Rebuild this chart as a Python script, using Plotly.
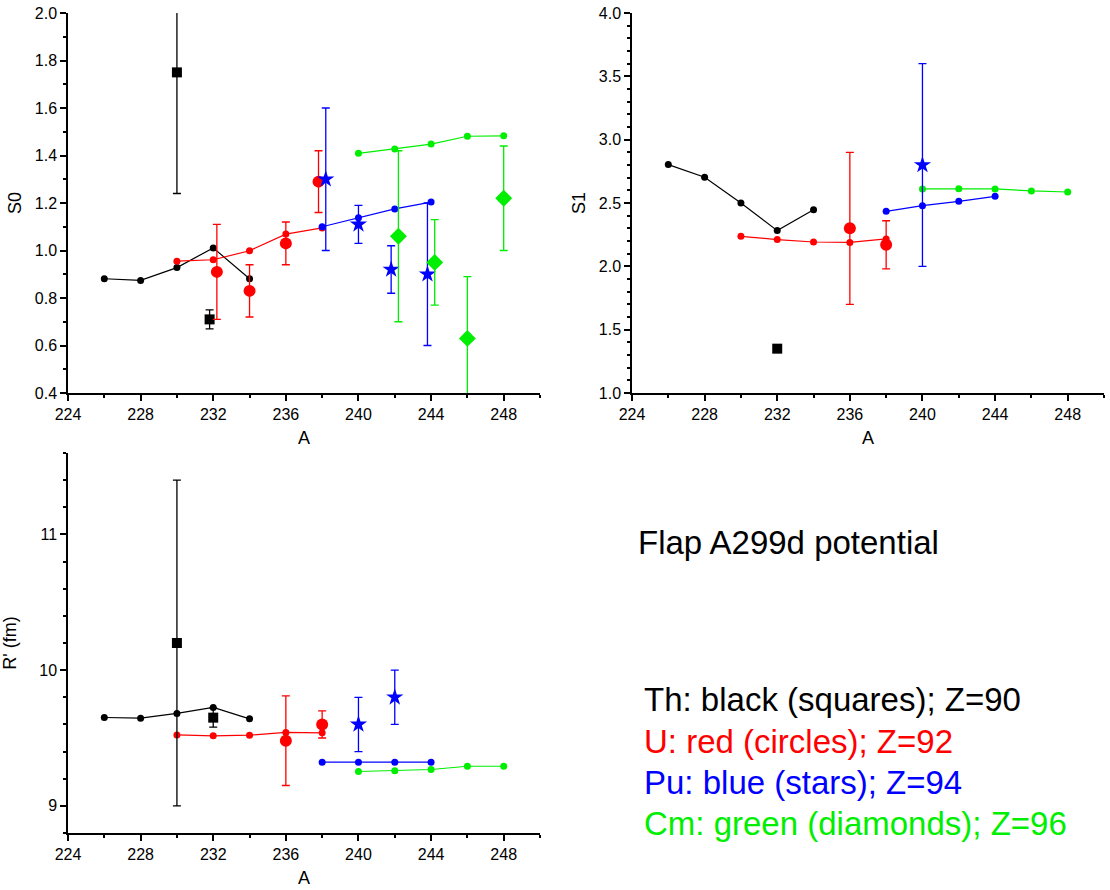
import plotly.graph_objects as go

# ---------------- data ----------------
# S0 panel
th_calc_A = [226, 228, 230, 232, 234]
th_calc_S0 = [0.881, 0.874, 0.928, 1.011, 0.881]
u_calc_A = [230, 232, 234, 236, 238]
u_calc_S0 = [0.955, 0.961, 0.999, 1.069, 1.095]
pu_calc_A = [238, 240, 242, 244]
pu_calc_S0 = [1.100, 1.138, 1.175, 1.204]
cm_calc_A = [240, 242, 244, 246, 248]
cm_calc_S0 = [1.409, 1.427, 1.448, 1.481, 1.483]

th_exp_A_S0 = [230, 231.8]
th_exp_S0 = [1.75, 0.71]
th_exp_S0_err = [0.51, 0.04]
u_exp_A_S0 = [232.2, 234, 236, 237.8]
u_exp_S0 = [0.91, 0.83, 1.03, 1.29]
u_exp_S0_err = [0.20, 0.11, 0.09, 0.13]
pu_exp_A_S0 = [238.2, 240, 241.8, 243.8]
pu_exp_S0 = [1.30, 1.11, 0.92, 0.90]
pu_exp_S0_err = [0.30, 0.08, 0.10, 0.30]
cm_exp_A_S0 = [242.2, 244.2, 246, 248]
cm_exp_S0 = [1.06, 0.95, 0.63, 1.22]
cm_exp_S0_err = [0.36, 0.18, 0.26, 0.22]

# S1 panel
th_calc_S1 = [2.803, 2.703, 2.500, 2.282, 2.447]
u_calc_S1 = [2.237, 2.211, 2.192, 2.189, 2.216]
pu_calc_S1 = [2.434, 2.479, 2.513, 2.553]
cm_calc_S1 = [2.611, 2.613, 2.611, 2.595, 2.587]

th_exp_A_S1 = [232]
th_exp_S1 = [1.35]
th_exp_S1_err = [0.03]
u_exp_A_S1 = [236, 238]
u_exp_S1 = [2.30, 2.17]
u_exp_S1_err = [0.60, 0.19]
pu_exp_A_S1 = [240]
pu_exp_S1 = [2.80]
pu_exp_S1_err = [0.80]

# R' panel
th_calc_R = [9.651, 9.646, 9.681, 9.725, 9.641]
u_calc_R = [9.523, 9.516, 9.521, 9.541, 9.538]
pu_calc_R = [9.322, 9.322, 9.322, 9.322]
cm_calc_R = [9.253, 9.258, 9.268, 9.292, 9.292]

th_exp_A_R = [230, 232]
th_exp_R = [10.2, 9.65]
th_exp_R_err = [1.2, 0.07]
u_exp_A_R = [236, 238]
u_exp_R = [9.48, 9.60]
u_exp_R_err = [0.33, 0.10]
pu_exp_A_R = [240, 242]
pu_exp_R = [9.60, 9.80]
pu_exp_R_err = [0.20, 0.20]

title_text = "Flap A299d potential"
legend_lines = ["Th: black (squares); Z=90", "U: red (circles); Z=92",
                "Pu: blue (stars); Z=94", "Cm: green (diamonds); Z=96"]

BLACK, RED, BLUE, GREEN = "#000000", "#ff0000", "#0000ff", "#00ee00"
colors = [BLACK, RED, BLUE, GREEN]

fig = go.Figure()


def calc(x, y, c, xa, ya):
    fig.add_trace(go.Scatter(x=x, y=y, mode="lines+markers", xaxis=xa, yaxis=ya,
                             line=dict(color=c, width=1.2),
                             marker=dict(color=c, size=7, symbol="circle"),
                             showlegend=False))


def exp(x, y, e, c, sym, size, xa, ya):
    fig.add_trace(go.Scatter(x=x, y=y, mode="markers", xaxis=xa, yaxis=ya,
                             marker=dict(color=c, size=size, symbol=sym, line=dict(width=0)),
                             error_y=dict(type="data", array=e, visible=True, color=c,
                                          thickness=1.3, width=4),
                             showlegend=False))


# panel 1
calc(th_calc_A, th_calc_S0, BLACK, "x", "y")
calc(u_calc_A, u_calc_S0, RED, "x", "y")
calc(pu_calc_A, pu_calc_S0, BLUE, "x", "y")
calc(cm_calc_A, cm_calc_S0, GREEN, "x", "y")
exp(th_exp_A_S0, th_exp_S0, th_exp_S0_err, BLACK, "square", 10, "x", "y")
exp(u_exp_A_S0, u_exp_S0, u_exp_S0_err, RED, "circle", 12, "x", "y")
exp(pu_exp_A_S0, pu_exp_S0, pu_exp_S0_err, BLUE, "star", 13, "x", "y")
exp(cm_exp_A_S0, cm_exp_S0, cm_exp_S0_err, GREEN, "diamond", 13, "x", "y")

# panel 2
calc(th_calc_A, th_calc_S1, BLACK, "x2", "y2")
calc(u_calc_A, u_calc_S1, RED, "x2", "y2")
calc(pu_calc_A, pu_calc_S1, BLUE, "x2", "y2")
calc(cm_calc_A, cm_calc_S1, GREEN, "x2", "y2")
exp(th_exp_A_S1, th_exp_S1, th_exp_S1_err, BLACK, "square", 10, "x2", "y2")
exp(u_exp_A_S1, u_exp_S1, u_exp_S1_err, RED, "circle", 12, "x2", "y2")
exp(pu_exp_A_S1, pu_exp_S1, pu_exp_S1_err, BLUE, "star", 13, "x2", "y2")

# panel 3
calc(th_calc_A, th_calc_R, BLACK, "x3", "y3")
calc(u_calc_A, u_calc_R, RED, "x3", "y3")
calc(pu_calc_A, pu_calc_R, BLUE, "x3", "y3")
calc(cm_calc_A, cm_calc_R, GREEN, "x3", "y3")
exp(th_exp_A_R, th_exp_R, th_exp_R_err, BLACK, "square", 10, "x3", "y3")
exp(u_exp_A_R, u_exp_R, u_exp_R_err, RED, "circle", 12, "x3", "y3")
exp(pu_exp_A_R, pu_exp_R, pu_exp_R_err, BLUE, "star", 13, "x3", "y3")

FONT = "Arial, Liberation Sans, sans-serif"
W, H = 1110, 890


def xaxis(dom, anchor, title):
    return dict(domain=dom, anchor=anchor, range=[224, 250], tickmode="linear", tick0=224, dtick=4,
                ticks="outside", ticklen=6, tickwidth=1.5, tickcolor="black", automargin=False,
                minor=dict(ticks="outside", ticklen=3, dtick=2, tick0=224, tickcolor="black", tickwidth=1.5),
                showline=True, linecolor="black", linewidth=1.5, showgrid=False, zeroline=False,
                tickfont=dict(size=16, color="black", family=FONT),
                title=dict(text=title, font=dict(size=18, color="black", family=FONT), standoff=9))


def yaxis(dom, anchor, rng, dt, mdt, title, fmt, standoff):
    return dict(domain=dom, anchor=anchor, range=rng, tickmode="linear", tick0=rng[0], dtick=dt,
                ticks="outside", ticklen=6, tickwidth=1.5, tickcolor="black", tickformat=fmt,
                automargin=False,
                minor=dict(ticks="outside", ticklen=3, dtick=mdt, tickcolor="black", tickwidth=1.5),
                showline=True, linecolor="black", linewidth=1.5, showgrid=False, zeroline=False,
                tickfont=dict(size=16, color="black", family=FONT),
                title=dict(text=title, font=dict(size=18, color="black", family=FONT), standoff=standoff))


x1 = [68 / W, 540 / W]
x2 = [632 / W, 1104 / W]
ytop = [1 - 393 / H, 1 - 13 / H]
ybot = [1 - 833 / H, 1 - 453 / H]

y3ax = yaxis(ybot, "x3", [8.8, 11.6], 1, 0.2, "R' (fm)", "d", 22)
y3ax["tick0"] = 9

fig.update_layout(
    width=W, height=H, margin=dict(l=0, r=0, t=0, b=0),
    paper_bgcolor="white", plot_bgcolor="white",
    font=dict(family=FONT, color="black"),
    xaxis=xaxis(x1, "y", "A"),
    yaxis=yaxis(ytop, "x", [0.4, 2.0], 0.2, 0.1, "S0", ".1f", 8),
    xaxis2=xaxis(x2, "y2", "A"),
    yaxis2=yaxis(ytop, "x2", [1.0, 4.0], 0.5, 0.1, "S1", ".1f", 8),
    xaxis3=xaxis(x1, "y3", "A"),
    yaxis3=y3ax,
)

fig.add_annotation(x=636 / W, y=1 - 542 / H, xref="paper", yref="paper", xanchor="left", yanchor="middle",
                   text=title_text, showarrow=False, font=dict(size=33, color="black", family=FONT))
ys = [699, 741, 782, 823]
for t, c, yy in zip(legend_lines, colors, ys):
    fig.add_annotation(x=642 / W, y=1 - yy / H, xref="paper", yref="paper", xanchor="left", yanchor="middle",
                       text=t, showarrow=False, font=dict(size=33, color=c, family=FONT))

fig.write_html("out.html")
